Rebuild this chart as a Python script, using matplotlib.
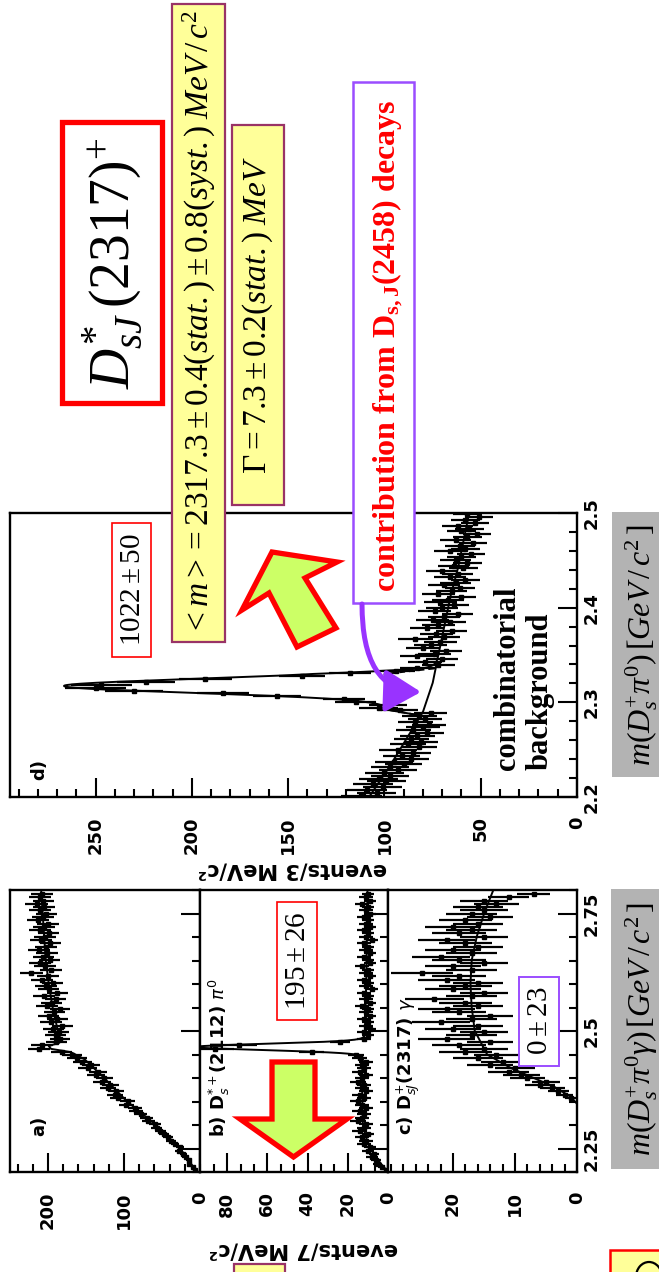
import numpy as np
import matplotlib
matplotlib.use("Agg")
import matplotlib.pyplot as plt
from matplotlib.patches import Rectangle, Polygon, FancyArrowPatch, Arc
from matplotlib.path import Path
from matplotlib.ticker import MultipleLocator, FixedLocator, AutoMinorLocator, FuncFormatter

# ---------------------------------------------------------------- data
# d) m(Ds+ pi0): 3 MeV/c^2 bins starting at 2.200 GeV/c^2
d_bin_start = 2.200
d_bin_width = 0.003
d_counts = [112, 104, 109, 101, 106, 99, 103, 97, 100, 93,
            97, 90, 95, 86, 91, 85, 93, 82, 88, 81,
            86, 83, 78, 85, 80, 77, 84, 79, 82, 76,
            92, 103, 98, 115, 121, 156, 184, 230, 250, 247,
            224, 193, 143, 118, 94, 83, 72, 79, 70, 83,
            74, 68, 80, 76, 71, 84, 69, 73, 65, 78,
            72, 66, 75, 69, 62, 74, 70, 64, 71, 67,
            60, 72, 65, 61, 69, 63, 58, 66, 62, 70,
            59, 64, 57, 63, 60, 55, 66, 58, 61, 54,
            63, 57, 52, 60, 56, 62, 53, 58, 51, 57]
d_signal_yield = 1022
d_signal_mean = 2.3173
d_signal_sigma = 0.0073
d_bkg_mass = [2.20, 2.23, 2.26, 2.29, 2.32, 2.35, 2.38, 2.41, 2.44, 2.47, 2.50]
d_bkg_level = [108, 98, 89, 80, 75, 72, 69, 66, 62, 59, 56]
d_refl_mass = [2.200, 2.286, 2.292, 2.300, 2.310, 2.320, 2.330, 2.336, 2.500]
d_refl_level = [0, 0, 18, 20, 22, 24, 26, 0, 0]

# a), b), c) m(Ds+ pi0 gamma): 7 MeV/c^2 bins starting at 2.200 GeV/c^2
abc_bin_start = 2.200
abc_bin_width = 0.007
a_counts = [6, 9, 14, 15, 19, 22, 28, 26, 33, 38,
            42, 47, 52, 57, 59, 68, 70, 78, 84, 86,
            97, 95, 108, 112, 110, 121, 118, 129, 126, 137,
            134, 148, 143, 155, 162, 168, 182, 212, 208, 189,
            184, 190, 186, 193, 181, 196, 188, 199, 192, 184,
            201, 195, 190, 205, 188, 199, 203, 194, 208, 200,
            222, 196, 204, 210, 198, 206, 201, 212, 203, 197,
            209, 204, 199, 211, 205, 200, 213, 207, 202, 210,
            205, 215, 206, 211, 208]
a_fit_mass = [2.20, 2.25, 2.30, 2.35, 2.40, 2.44, 2.455, 2.462, 2.468, 2.475,
              2.485, 2.50, 2.55, 2.60, 2.65, 2.70, 2.75, 2.80]
a_fit_level = [4, 26, 58, 96, 126, 152, 170, 196, 199, 185,
               184, 187, 194, 199, 203, 205, 207, 209]

b_counts = [1, 3, 5, 6, 8, 7, 10, 9, 12, 11,
            13, 10, 14, 12, 11, 15, 13, 12, 14, 11,
            13, 15, 12, 14, 11, 13, 12, 15, 13, 11,
            14, 12, 13, 11, 14, 16, 38, 86, 74, 24,
            12, 10, 12, 9, 11, 10, 12, 9, 11, 10,
            13, 9, 11, 10, 12, 8, 11, 10, 12, 9,
            11, 10, 13, 9, 10, 12, 9, 11, 10, 12,
            8, 11, 10, 12, 9, 11, 10, 12, 9, 11,
            10, 13, 9, 11, 10]
b_signal_yield = 195
b_signal_mean = 2.466
b_signal_sigma = 0.0065
b_bkg_mass = [2.20, 2.23, 2.26, 2.30, 2.40, 2.50, 2.60, 2.70, 2.80]
b_bkg_level = [0, 6, 10, 12.5, 13, 11.5, 10.8, 10.5, 10.2]

c_counts = [0, 0, 0, 0, 0, 0, 0, 0, 0, 0,
            0, 0, 0, 0, 0, 0, 0, 0, 0, 0,
            0, 0, 1, 2, 3, 4, 6, 5, 8, 9,
            11, 10, 14, 12, 16, 13, 18, 15, 19, 14,
            21, 17, 15, 20, 16, 22, 17, 14, 19, 21,
            16, 18, 23, 17, 15, 20, 18, 16, 21, 19,
            25, 17, 20, 15, 19, 22, 17, 20, 16, 18,
            21, 15, 19, 17, 20, 16, 18, 14, 17, 15,
            16, 13, 15, 11, 7]
c_signal_yield = 0
c_bkg_mass = [2.345, 2.36, 2.38, 2.40, 2.42, 2.45, 2.50, 2.55, 2.60, 2.65, 2.70, 2.75, 2.80]
c_bkg_level = [0, 1, 3.5, 7, 10.5, 14.5, 16.5, 17, 17.2, 17, 16.2, 15, 13.5]

# ---------------------------------------------------------------- style
plt.rcParams['mathtext.fontset'] = 'custom'
plt.rcParams['mathtext.rm'] = 'Liberation Serif'
plt.rcParams['mathtext.it'] = 'Liberation Serif:italic'
plt.rcParams['mathtext.bf'] = 'Liberation Serif:bold'

W, H = 659, 1272
fig = plt.figure(figsize=(W / 100, H / 100), dpi=100)
fig.patch.set_facecolor('white')

PAW_FONT = dict(family='DejaVu Sans', weight='bold')


def rect(x0, y0, x1, y1):
    """Axes rectangle from pixel edges (origin top-left)."""
    return [x0 / W, 1 - y1 / H, (x1 - x0) / W, (y1 - y0) / H]


def mass_fmt(v, pos):
    return f"{v:.2f}".rstrip('0').rstrip('.')


def make_panel(box, ev_max, ev_labels, ev_minor, m_lo, m_hi, m_major, m_minor,
               show_mass_labels):
    ax = fig.add_axes(rect(*box))
    ax.set_xlim(ev_max, 0)          # counts grow towards the left
    ax.set_ylim(m_lo, m_hi)         # mass grows upwards
    ax.xaxis.set_major_locator(FixedLocator(ev_labels))
    ax.xaxis.set_minor_locator(ev_minor)
    ax.yaxis.set_major_locator(MultipleLocator(m_major))
    ax.yaxis.set_minor_locator(MultipleLocator(m_minor))
    ax.yaxis.set_major_formatter(FuncFormatter(mass_fmt))
    ax.yaxis.tick_right()
    ax.tick_params(which='both', direction='in', width=1.5, color='black')
    ax.tick_params(axis='x', which='major', length=14, bottom=True, top=False,
                   labelrotation=90, pad=14, labelsize=13)
    ax.tick_params(axis='x', which='minor', length=6, bottom=True, top=False)
    ax.tick_params(axis='y', which='major', length=14, right=True, left=False,
                   labelright=show_mass_labels, labelleft=False,
                   labelrotation=90, pad=4, labelsize=13)
    ax.tick_params(axis='y', which='minor', length=6, right=True, left=False)
    for lab in ax.get_xticklabels() + ax.get_yticklabels():
        lab.set_fontfamily('DejaVu Sans')
        lab.set_fontweight('bold')
    for lab in ax.get_yticklabels():
        lab.set_verticalalignment('center')
    for sp in ax.spines.values():
        sp.set_linewidth(1.7)
    return ax


def draw_counts(ax, start, width, counts):
    n = np.asarray(counts, dtype=float)
    m = start + width * (np.arange(n.size) + 0.5)
    keep = n > 0
    ax.errorbar(n[keep], m[keep], xerr=np.sqrt(n[keep]), yerr=width / 2,
                fmt='s', ms=3.0, color='black', ecolor='black',
                elinewidth=1.6, capsize=0, zorder=3)


def gauss_counts(m, yield_, mean, sigma, width):
    return yield_ * width / (np.sqrt(2 * np.pi) * sigma) * \
        np.exp(-0.5 * ((m - mean) / sigma) ** 2)


# ---------------------------------------------------------------- panel d
ax_d = make_panel((10, 513, 577, 797), 294.5, [0, 50, 100, 150, 200, 250],
                  MultipleLocator(10), 2.2, 2.5, 0.1, 0.02, True)
draw_counts(ax_d, d_bin_start, d_bin_width, d_counts)
m_d = np.linspace(2.2, 2.5, 901)
bkg_d = np.interp(m_d, d_bkg_mass, d_bkg_level)
refl_d = np.interp(m_d, d_refl_mass, d_refl_level)
sig_d = gauss_counts(m_d, d_signal_yield, d_signal_mean, d_signal_sigma, d_bin_width)
ax_d.plot(bkg_d + refl_d + sig_d, m_d, color='black', lw=1.4, zorder=4)
band = (m_d > 2.282) & (m_d < 2.340)
ax_d.plot(bkg_d[band], m_d[band], color='black', lw=1.4, zorder=4)
ax_d.plot((bkg_d + refl_d)[band], m_d[band], color='black', lw=1.4,
          ls=(0, (3, 2)), zorder=4)

# ---------------------------------------------------------------- panels a, b, c
m_abc = np.linspace(2.2, 2.8, 1201)

ax_a = make_panel((10, 890, 200, 1172), 250, [0, 100, 200], MultipleLocator(20),
                  2.2, 2.8, 0.25, 0.05, False)
draw_counts(ax_a, abc_bin_start, abc_bin_width, a_counts)
ax_a.plot(np.interp(m_abc, a_fit_mass, a_fit_level), m_abc, color='black', lw=1.4)

ax_b = make_panel((200, 890, 388, 1172), 93.5, [0, 20, 40, 60, 80], AutoMinorLocator(3),
                  2.2, 2.8, 0.25, 0.05, False)
draw_counts(ax_b, abc_bin_start, abc_bin_width, b_counts)
fit_b = np.interp(m_abc, b_bkg_mass, b_bkg_level) + \
    gauss_counts(m_abc, b_signal_yield, b_signal_mean, b_signal_sigma, abc_bin_width)
ax_b.plot(fit_b, m_abc, color='black', lw=1.4)

ax_c = make_panel((388, 890, 577, 1172), 30.5, [0, 10, 20], MultipleLocator(2),
                  2.2, 2.8, 0.25, 0.05, True)
draw_counts(ax_c, abc_bin_start, abc_bin_width, c_counts)
fit_c = np.interp(m_abc, c_bkg_mass, c_bkg_level, left=0)
ax_c.plot(fit_c, m_abc, color='black', lw=1.4)

# ---------------------------------------------------------------- annotations
ov = fig.add_axes([0, 0, 1, 1], zorder=10)
ov.set_xlim(0, W)
ov.set_ylim(H, 0)
ov.axis('off')

# panel tags and axis titles
ov.text(39, 770, 'd)', rotation=90, ha='center', va='center', fontsize=13, **PAW_FONT)
ov.text(39, 1126, 'a)', rotation=90, ha='center', va='center', fontsize=13, **PAW_FONT)
ov.text(219, 1137, r'b) D$^{*+}_{s}$(2112) $\pi^{0}$', rotation=90, ha='center',
        va='bottom', fontsize=13, math_fontfamily='dejavusans', **PAW_FONT)
ov.text(408, 1135, r'c) D$^{+}_{sJ}$(2317) $\gamma$', rotation=90, ha='center',
        va='bottom', fontsize=13, math_fontfamily='dejavusans', **PAW_FONT)
ov.text(292, 869, 'events/3 MeV/c²', rotation=180, ha='center', va='center',
        fontsize=15, **PAW_FONT)
ov.text(303, 1250, 'events/7 MeV/c²', rotation=180, ha='center', va='center',
        fontsize=15, **PAW_FONT)

# grey mass-axis captions
ov.add_patch(Rectangle((612, 512), 60, 265, fc='#B3B3B3', ec='none'))
ov.add_patch(Rectangle((611, 889), 60, 280, fc='#B3B3B3', ec='none'))
ov.text(642, 645, r'$m(D_s^{+}\pi^{0})\,[GeV\,/\,c^{2}\,]$', rotation=90,
        ha='center', va='center', fontsize=23)
ov.text(642, 1029, r'$m(D_s^{+}\pi^{0}\gamma)\,[GeV\,/\,c^{2}\,]$', rotation=90,
        ha='center', va='center', fontsize=23)

# title box
ov.add_patch(Rectangle((62, 122), 100, 281, fc='white', ec='#FF0000', lw=3.8))
ov.text(112, 263, r'$D_{sJ}^{*}\,(2317)^{+}$', rotation=90, ha='center',
        va='center', fontsize=40)

# fit results
ov.add_patch(Rectangle((172, 4), 53, 638, fc='#FFFF99', ec='#993366', lw=1.6))
ov.text(199, 322, r'$<m>=2317.3\pm0.4(stat.)\pm0.8(syst.)\;MeV\,/\,c^{2}$',
        rotation=90, ha='center', va='center', fontsize=24)
ov.add_patch(Rectangle((232, 125), 52, 380, fc='#FFFF99', ec='#993366', lw=1.6))
ov.text(258, 315, r'$\Gamma = 7.3\pm0.2(stat.)\;MeV$', rotation=90,
        ha='center', va='center', fontsize=24)

# signal yields
ov.add_patch(Rectangle((112, 523), 39, 134, fc='white', ec='#FF0000', lw=1.2))
ov.text(131.5, 590, r'$1022\pm50$', rotation=90, ha='center', va='center', fontsize=21)
ov.add_patch(Rectangle((277, 902), 40, 118, fc='white', ec='#FF0000', lw=1.2))
ov.text(297, 961, r'$195\pm26$', rotation=90, ha='center', va='center', fontsize=21)
ov.add_patch(Rectangle((519, 977), 40, 89, fc='white', ec='#9B4DFF', lw=1.4))
ov.text(539, 1021, r'$0\pm23$', rotation=90, ha='center', va='center', fontsize=21)

# reflection comment with curved pointer
ov.add_patch(Rectangle((353, 82), 61, 521, fc='white', ec='#9B4DFF', lw=1.8))
ov.text(388, 346, r'contribution from D$_{\mathbf{s,J}}$(2458) decays', rotation=90,
        ha='center', va='center', fontsize=23, color='#FF0000',
        family='Liberation Serif', weight='bold')
curve = Path([(362, 604), (362, 690), (421, 692)],
             [Path.MOVETO, Path.CURVE3, Path.CURVE3])
ov.add_patch(FancyArrowPatch(path=curve, arrowstyle='-|>,head_length=1.1,head_width=0.65',
                             mutation_scale=20, lw=3.6, color='#9933FF',
                             transform=ov.transData))

ov.text(524, 770, 'combinatorial\nbackground', rotation=90, ha='center', va='bottom',
        multialignment='left', fontsize=22, family='Liberation Serif',
        weight='bold', linespacing=1.15)

# block arrows
ov.add_patch(Polygon([(272, 552), (337, 562), (305, 578), (336, 628), (297, 647),
                      (269, 593), (242, 610)], closed=True, fc='#CCFF66',
                     ec='#FF0000', lw=3.8, joinstyle='miter'))
ov.add_patch(Polygon([(272, 1062), (315, 1062), (315, 1119), (347, 1119),
                      (293.5, 1157), (240, 1119), (272, 1119)], closed=True,
                     fc='#CCFF66', ec='#FF0000', lw=3.8, joinstyle='miter'))

# boxes running off the bottom edge
ov.add_patch(Rectangle((234, 1264), 51, 20, fc='#FFFF99', ec='#993366', lw=1.6))
ov.add_patch(Rectangle((610, 1250), 60, 30, fc='#FFFF99', ec='#FF0000', lw=1.8))
ov.add_patch(Arc((649, 1277), 26, 30, theta1=180, theta2=360, color='black', lw=1.6))

fig.savefig('out.png', dpi=100)
